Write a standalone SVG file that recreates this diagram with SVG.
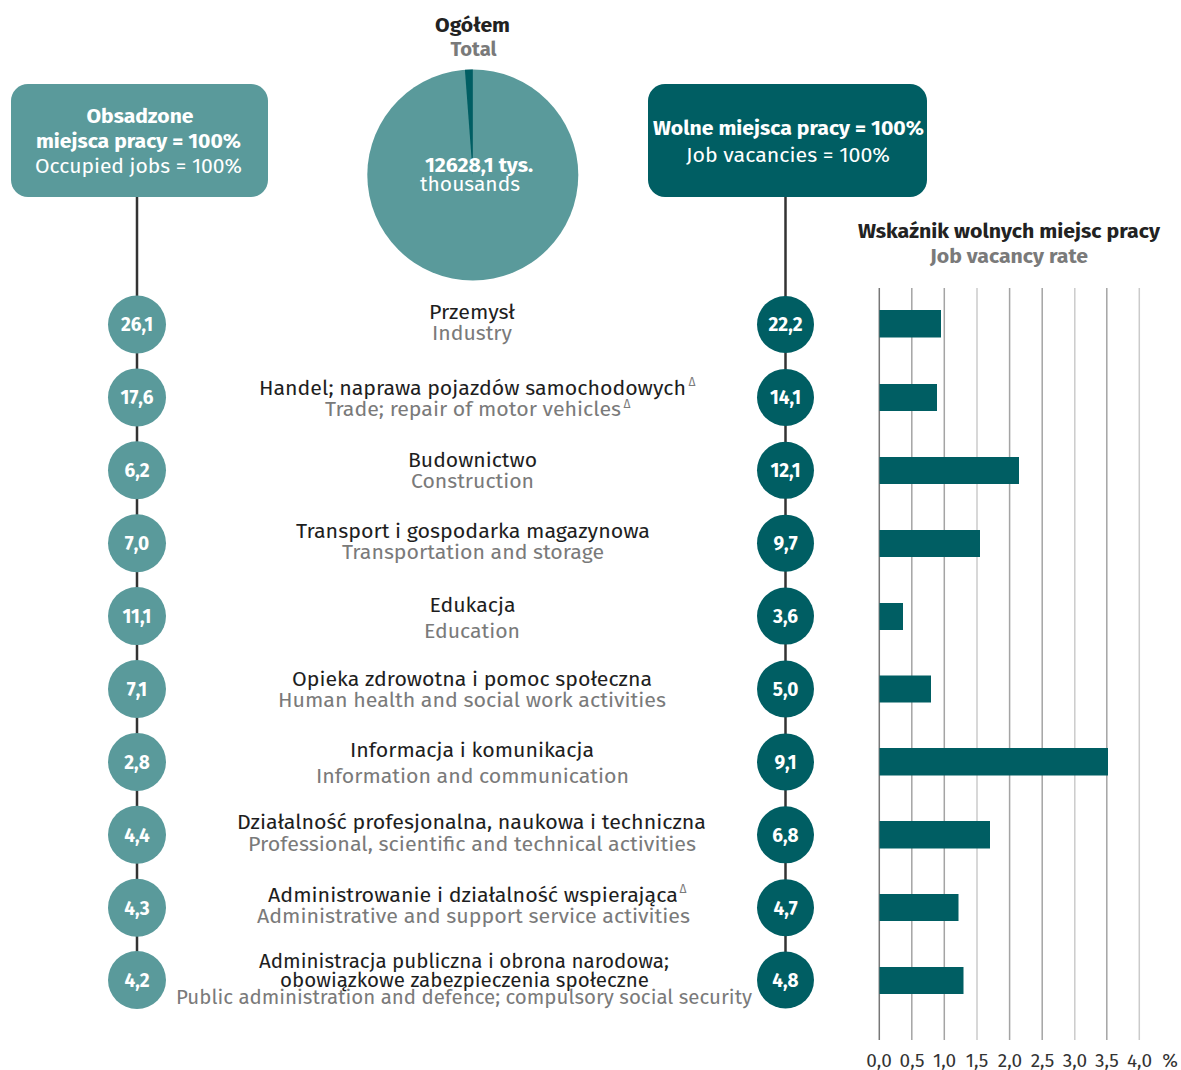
<svg xmlns="http://www.w3.org/2000/svg" width="1181" height="1070" viewBox="0 0 1181 1070">
<style>
text{font-family:"Fira Sans","Noto Sans","Open Sans",sans-serif;}
.b{font-weight:bold;}
.pl{font-size:20px;fill:#1e1e1e;text-anchor:middle;}
.en{font-size:20px;fill:#7a7a7a;text-anchor:middle;}
.delta{font-size:12px;fill:#7a7a7a;}
.wt{fill:#ffffff;text-anchor:middle;font-size:20px;}
.cl{fill:#5a9a9b;}
.cd{fill:#005e63;}
.ct{fill:#ffffff;text-anchor:middle;font-size:19px;font-weight:bold;}
.bar{fill:#005e63;}
.g1{stroke:#a4a4a4;stroke-width:1.5;}
.g2{stroke:#cbcbcb;stroke-width:1.5;}
.ax{font-size:19px;fill:#333;text-anchor:middle;}
.conn{stroke:#333;stroke-width:2.5;fill:none;}
</style>

<g id="title">
<text class="b" x="472.5" y="32" font-size="20" fill="#222" text-anchor="middle" textLength="75" lengthAdjust="spacingAndGlyphs">Ogółem</text>
<text class="b" x="473.5" y="56" font-size="20" fill="#7a7a7a" text-anchor="middle" textLength="46" lengthAdjust="spacingAndGlyphs">Total</text>
</g>

<g id="connectors">
<line class="conn" x1="137" y1="197" x2="137" y2="980"/>
<line class="conn" x1="785.5" y1="197" x2="785.5" y2="980"/>
</g>

<g id="pie">
<circle cx="472.8" cy="175" r="105.5" fill="#5a9a9b"/>
<path d="M472.8,175 L472.8,69.5 A105.5,105.5 0 0 0 464.9,69.8 Z" fill="#005e63"/>
<text class="wt b" x="479" y="172" textLength="108" lengthAdjust="spacingAndGlyphs">12628,1 tys.</text>
<text class="wt" x="470" y="191" textLength="100" lengthAdjust="spacingAndGlyphs">thousands</text>
</g>

<g id="box-occupied">
<rect x="11" y="84" width="257" height="113" rx="17" fill="#5a9a9b"/>
<text class="wt b" x="140" y="123" textLength="107" lengthAdjust="spacingAndGlyphs">Obsadzone</text>
<text class="wt b" x="138.5" y="148" textLength="205" lengthAdjust="spacingAndGlyphs">miejsca pracy = 100%</text>
<text class="wt" x="138.5" y="173" textLength="207" lengthAdjust="spacingAndGlyphs">Occupied jobs = 100%</text>
</g>

<g id="box-vacancies">
<rect x="648" y="84" width="279" height="113" rx="17" fill="#005e63"/>
<text class="wt b" x="788.5" y="135" textLength="271" lengthAdjust="spacingAndGlyphs">Wolne miejsca pracy = 100%</text>
<text class="wt" x="788" y="162" textLength="204" lengthAdjust="spacingAndGlyphs">Job vacancies = 100%</text>
</g>

<g id="rate-title">
<text class="b" x="1009" y="238" font-size="20" fill="#222" text-anchor="middle" textLength="302" lengthAdjust="spacingAndGlyphs">Wskaźnik wolnych miejsc pracy</text>
<text class="b" x="1009" y="263" font-size="20" fill="#7a7a7a" text-anchor="middle" textLength="158" lengthAdjust="spacingAndGlyphs">Job vacancy rate</text>
</g>

<g id="grid">
<line x1="879.3" y1="288" x2="879.3" y2="1040" stroke="#777" stroke-width="1.5"/>
<line class="g1" x1="911.8" y1="288" x2="911.8" y2="1040"/>
<line class="g1" x1="944.3" y1="288" x2="944.3" y2="1040"/>
<line class="g2" x1="977" y1="288" x2="977" y2="1040"/>
<line class="g1" x1="1009.6" y1="288" x2="1009.6" y2="1040"/>
<line class="g1" x1="1042.2" y1="288" x2="1042.2" y2="1040"/>
<line class="g2" x1="1074.8" y1="288" x2="1074.8" y2="1040"/>
<line class="g1" x1="1106.8" y1="288" x2="1106.8" y2="1040"/>
<line class="g2" x1="1139.3" y1="288" x2="1139.3" y2="1040"/>
</g>

<g id="axis-labels">
<text class="ax" x="879" y="1067">0,0</text>
<text class="ax" x="912" y="1067">0,5</text>
<text class="ax" x="944.5" y="1067">1,0</text>
<text class="ax" x="977" y="1067">1,5</text>
<text class="ax" x="1010" y="1067">2,0</text>
<text class="ax" x="1042.5" y="1067">2,5</text>
<text class="ax" x="1075" y="1067">3,0</text>
<text class="ax" x="1107" y="1067">3,5</text>
<text class="ax" x="1139.5" y="1067">4,0</text>
<text class="ax" x="1170" y="1067">%</text>
</g>

<g id="row1">
<circle class="cl" cx="137" cy="324.5" r="29"/>
<text class="ct" x="137" y="331">26,1</text>
<text class="pl" x="472" y="319" textLength="86" lengthAdjust="spacingAndGlyphs">Przemysł</text>
<text class="en" x="472" y="340" textLength="80" lengthAdjust="spacingAndGlyphs">Industry</text>
<circle class="cd" cx="785.5" cy="324.5" r="28.5"/>
<text class="ct" x="785.5" y="331">22,2</text>
<rect class="bar" x="879.5" y="310" width="61.5" height="27.5"/>
</g>

<g id="row2">
<circle class="cl" cx="137" cy="397.4" r="29"/>
<text class="ct" x="137" y="404">17,6</text>
<text class="pl" x="472.5" y="395" textLength="427" lengthAdjust="spacingAndGlyphs">Handel; naprawa pojazdów samochodowych</text>
<text class="delta" x="688.5" y="386">Δ</text>
<text class="en" x="473" y="416" textLength="296" lengthAdjust="spacingAndGlyphs">Trade; repair of motor vehicles</text>
<text class="delta" x="623.5" y="408">Δ</text>
<circle class="cd" cx="785.5" cy="397.4" r="28.5"/>
<text class="ct" x="785.5" y="404">14,1</text>
<rect class="bar" x="879.5" y="384" width="57.5" height="27"/>
</g>

<g id="row3">
<circle class="cl" cx="137" cy="470.3" r="29"/>
<text class="ct" x="137" y="477">6,2</text>
<text class="pl" x="472.5" y="467" textLength="129" lengthAdjust="spacingAndGlyphs">Budownictwo</text>
<text class="en" x="472.5" y="488" textLength="123" lengthAdjust="spacingAndGlyphs">Construction</text>
<circle class="cd" cx="785.5" cy="470.3" r="28.5"/>
<text class="ct" x="785.5" y="477">12,1</text>
<rect class="bar" x="879.5" y="457" width="139.5" height="27"/>
</g>

<g id="row4">
<circle class="cl" cx="137" cy="543.2" r="29"/>
<text class="ct" x="137" y="550">7,0</text>
<text class="pl" x="473" y="538" textLength="354" lengthAdjust="spacingAndGlyphs">Transport i gospodarka magazynowa</text>
<text class="en" x="473" y="559" textLength="262" lengthAdjust="spacingAndGlyphs">Transportation and storage</text>
<circle class="cd" cx="785.5" cy="543.2" r="28.5"/>
<text class="ct" x="785.5" y="550">9,7</text>
<rect class="bar" x="879.5" y="530" width="100.5" height="27"/>
</g>

<g id="row5">
<circle class="cl" cx="137" cy="616.1" r="29"/>
<text class="ct" x="137" y="623">11,1</text>
<text class="pl" x="472.5" y="612" textLength="86" lengthAdjust="spacingAndGlyphs">Edukacja</text>
<text class="en" x="472" y="638" textLength="96" lengthAdjust="spacingAndGlyphs">Education</text>
<circle class="cd" cx="785.5" cy="616.1" r="28.5"/>
<text class="ct" x="785.5" y="623">3,6</text>
<rect class="bar" x="879.5" y="603" width="23.5" height="27"/>
</g>

<g id="row6">
<circle class="cl" cx="137" cy="689" r="29"/>
<text class="ct" x="137" y="696">7,1</text>
<text class="pl" x="472" y="686" textLength="360" lengthAdjust="spacingAndGlyphs">Opieka zdrowotna i pomoc społeczna</text>
<text class="en" x="472" y="707" textLength="388" lengthAdjust="spacingAndGlyphs">Human health and social work activities</text>
<circle class="cd" cx="785.5" cy="689" r="28.5"/>
<text class="ct" x="785.5" y="696">5,0</text>
<rect class="bar" x="879.5" y="675.5" width="51.5" height="27"/>
</g>

<g id="row7">
<circle class="cl" cx="137" cy="761.9" r="29"/>
<text class="ct" x="137" y="769">2,8</text>
<text class="pl" x="472" y="757" textLength="244" lengthAdjust="spacingAndGlyphs">Informacja i komunikacja</text>
<text class="en" x="472.5" y="783" textLength="313" lengthAdjust="spacingAndGlyphs">Information and communication</text>
<circle class="cd" cx="785.5" cy="761.9" r="28.5"/>
<text class="ct" x="785.5" y="769">9,1</text>
<rect class="bar" x="879.5" y="748" width="228.5" height="27.5"/>
</g>

<g id="row8">
<circle class="cl" cx="137" cy="834.8" r="29"/>
<text class="ct" x="137" y="842">4,4</text>
<text class="pl" x="471.5" y="829" textLength="469" lengthAdjust="spacingAndGlyphs">Działalność profesjonalna, naukowa i techniczna</text>
<text class="en" x="472" y="851" textLength="448" lengthAdjust="spacingAndGlyphs">Professional, scientific and technical activities</text>
<circle class="cd" cx="785.5" cy="834.8" r="28.5"/>
<text class="ct" x="785.5" y="842">6,8</text>
<rect class="bar" x="879.5" y="821" width="110.5" height="27.5"/>
</g>

<g id="row9">
<circle class="cl" cx="137" cy="907.7" r="29"/>
<text class="ct" x="137" y="915">4,3</text>
<text class="pl" x="473" y="902" textLength="410" lengthAdjust="spacingAndGlyphs">Administrowanie i działalność wspierająca</text>
<text class="delta" x="679.5" y="893">Δ</text>
<text class="en" x="473.5" y="923" textLength="433" lengthAdjust="spacingAndGlyphs">Administrative and support service activities</text>
<circle class="cd" cx="785.5" cy="907.7" r="28.5"/>
<text class="ct" x="785.5" y="915">4,7</text>
<rect class="bar" x="879.5" y="894" width="79" height="27"/>
</g>

<g id="row10">
<circle class="cl" cx="137" cy="980" r="29"/>
<text class="ct" x="137" y="987">4,2</text>
<text class="pl" x="464" y="968" textLength="410" lengthAdjust="spacingAndGlyphs">Administracja publiczna i obrona narodowa;</text>
<text class="pl" x="464.5" y="987" textLength="369" lengthAdjust="spacingAndGlyphs">obowiązkowe zabezpieczenia społeczne</text>
<text class="en" x="464" y="1004" textLength="576" lengthAdjust="spacingAndGlyphs">Public administration and defence; compulsory social security</text>
<circle class="cd" cx="785.5" cy="980" r="28.5"/>
<text class="ct" x="785.5" y="987">4,8</text>
<rect class="bar" x="879.5" y="967" width="84" height="27"/>
</g>
</svg>
